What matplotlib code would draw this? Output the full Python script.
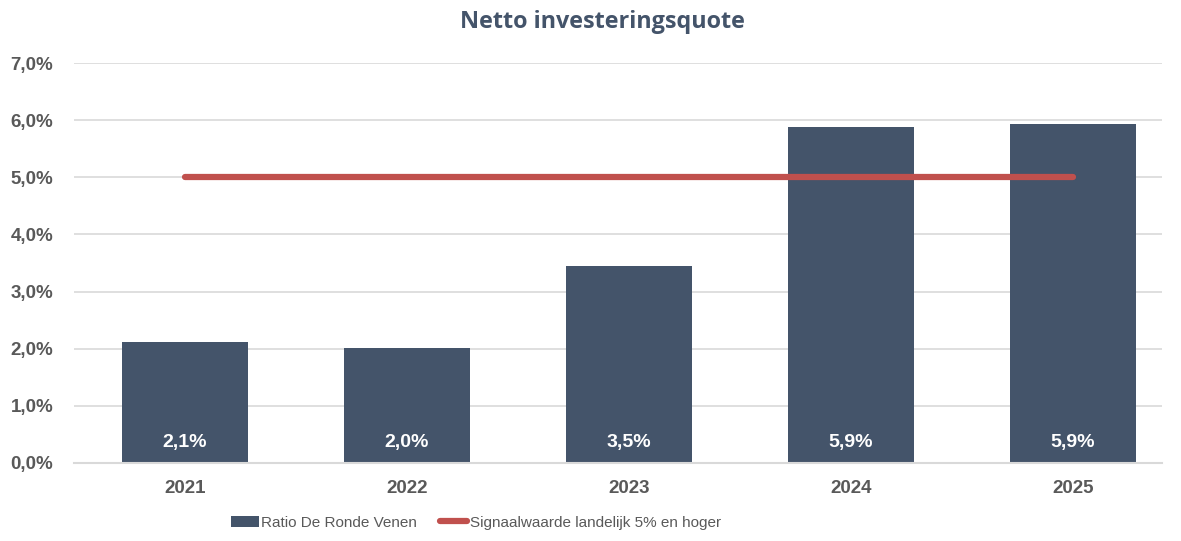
import matplotlib
matplotlib.use("Agg")
import matplotlib.pyplot as plt
from matplotlib.ticker import FuncFormatter

# data
years = ["2021", "2022", "2023", "2024", "2025"]
ratio = [2.12, 2.01, 3.45, 5.88, 5.94]
labels = ["2,1%", "2,0%", "3,5%", "5,9%", "5,9%"]
signal = [5.0, 5.0, 5.0, 5.0, 5.0]
yticks = [0, 1, 2, 3, 4, 5, 6, 7]

bar_color = "#44546A"
line_color = "#C0504D"
text_gray = "#595959"

plt.rcParams["font.family"] = ["Liberation Sans", "DejaVu Sans"]

fig = plt.figure(figsize=(11.81, 5.41), dpi=100)
ax = fig.add_axes([0.0627, 0.1442, 0.921, 0.7393])

x = list(range(len(years)))
bars = ax.bar(x, ratio, width=0.57, color=bar_color, zorder=2)
line, = ax.plot(x, signal, color=line_color, linewidth=4.5, solid_capstyle="round", zorder=3)

for xi, lab in zip(x, labels):
    ax.text(xi, 0.35, lab, color="white", fontsize=14, fontweight="bold",
            ha="center", va="center", zorder=4)

ax.set_xlim(-0.5, 4.4)
ax.set_ylim(0, 7)
ax.set_yticks(yticks)
ax.yaxis.set_major_formatter(FuncFormatter(lambda v, p: f"{v:.1f}%".replace(".", ",")))
ax.set_xticks(x)
ax.set_xticklabels(years)
ax.grid(axis="y", color="#D9D9D9", linewidth=1.2, zorder=0)
ax.set_axisbelow(True)
for s in ["top", "right", "left"]:
    ax.spines[s].set_visible(False)
ax.spines["bottom"].set_color("#D9D9D9")
ax.spines["bottom"].set_linewidth(1.5)
ax.tick_params(axis="both", length=0, labelsize=13.5, labelcolor=text_gray)
ax.tick_params(axis="y", pad=15)
ax.tick_params(axis="x", pad=12)
for t in ax.get_xticklabels() + ax.get_yticklabels():
    t.set_fontweight("bold")

fig.text(0.51, 0.959, "Netto investeringsquote", ha="center", va="center",
         fontsize=16.8, fontweight="bold", color=bar_color, family=["Open Sans", "DejaVu Sans"])

leg = fig.legend([bars, line], ["Ratio De Ronde Venen", "Signaalwaarde landelijk 5% en hoger"],
                 loc="center", bbox_to_anchor=(0.403, 0.034), ncol=2, frameon=False,
                 fontsize=11, handlelength=1.8, handletextpad=0.15, columnspacing=1.5)
for t in leg.get_texts():
    t.set_color(text_gray)

fig.savefig("out.png", dpi=100)
